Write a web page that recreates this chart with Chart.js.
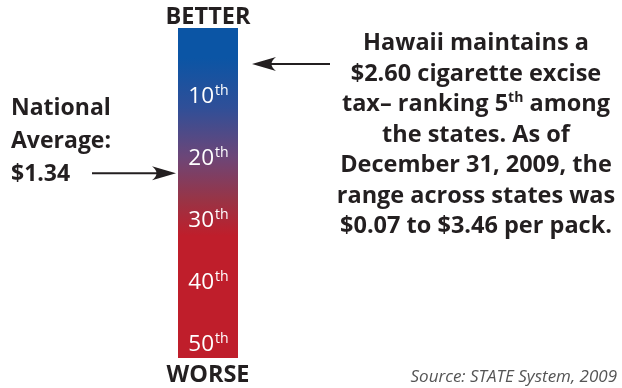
<!DOCTYPE html>
<html>
<head>
<meta charset="utf-8">
<script src="https://cdn.jsdelivr.net/npm/chart.js@4"></script>
<style>
    html, body { margin: 0; padding: 0; background: #fff; }
    canvas { display: block; }
</style>
</head>
<body>
<canvas id="rankChart" width="622" height="388"></canvas>
<script>
// state ranking scale (1st = highest tax), the bar covers the whole scale
const rankCategories = ['Cigarette excise tax rank'];
const scaleRange = [-0.8, 52.4];
const rankTicks = [10, 20, 30, 40, 50];
const tickSuffix = 'th';
const hawaiiRank = 5;
const nationalAverageRank = 22.6;
const endLabels = ['BETTER', 'WORSE'];
const averageLines = ['National', 'Average:', '$1.34'];
// each line is a list of [text, isSuperscript]
const noteLines = [
    [['Hawaii maintains a', false]],
    [['$2.60 cigarette excise', false]],
    [['tax\u2013 ranking 5', false], ['th', true], [' among', false]],
    [['the states. As of', false]],
    [['December 31, 2009, the', false]],
    [['range across states was', false]],
    [['$0.07 to $3.46 per pack.', false]]
];
const sourceText = 'Source: STATE System, 2009';

const BLUE = '#0b55a5';
const RED = '#bf1e2b';
const INK = '#231f20';
const FONT = '"Open Sans"';

function barGradient(context) {
    const { ctx, chartArea } = context.chart;
    if (!chartArea) return BLUE;
    const g = ctx.createLinearGradient(0, chartArea.top, 0, chartArea.bottom);
    g.addColorStop(0, BLUE);
    g.addColorStop(0.09, BLUE);
    g.addColorStop(0.24, '#2f4f98');
    g.addColorStop(0.39, '#6c4678');
    g.addColorStop(0.52, '#983446');
    g.addColorStop(0.63, RED);
    g.addColorStop(1, RED);
    return g;
}

function drawRich(ctx, parts, cx, baseline, size, supSize) {
    const font = s => `bold ${s}px ${FONT}`;
    let width = 0;
    parts.forEach(([text, sup]) => {
        ctx.font = font(sup ? supSize : size);
        width += ctx.measureText(text).width;
    });
    let x = cx - width / 2;
    ctx.textAlign = 'left';
    parts.forEach(([text, sup]) => {
        ctx.font = font(sup ? supSize : size);
        ctx.fillText(text, x, sup ? baseline - size * 0.4 : baseline);
        x += ctx.measureText(text).width;
    });
}

function drawArrow(ctx, x1, x2, y) {
    // line from x1 to arrow tip at x2
    const dir = x2 > x1 ? 1 : -1;
    ctx.strokeStyle = INK;
    ctx.fillStyle = INK;
    ctx.lineWidth = 2;
    ctx.beginPath();
    ctx.moveTo(x1, y);
    ctx.lineTo(x2 - dir * 10, y);
    ctx.stroke();
    ctx.beginPath();
    ctx.moveTo(x2, y);
    ctx.lineTo(x2 - dir * 24, y - 7);
    ctx.quadraticCurveTo(x2 - dir * 15, y, x2 - dir * 24, y + 7);
    ctx.closePath();
    ctx.fill();
}

const annotations = {
    id: 'annotations',
    afterDatasetsDraw(chart) {
        const { ctx, chartArea, scales: { y } } = chart;
        const cx = (chartArea.left + chartArea.right) / 2;
        ctx.save();
        ctx.textBaseline = 'alphabetic';

        // rank labels inside the bar
        ctx.fillStyle = '#fff';
        rankTicks.forEach(t => {
            const py = y.getPixelForValue(t) + 8;
            ctx.font = `22.5px ${FONT}`;
            const w1 = ctx.measureText(String(t)).width;
            ctx.font = `14px ${FONT}`;
            const w2 = ctx.measureText(tickSuffix).width;
            const x0 = cx - (w1 + w2) / 2;
            ctx.font = `22.5px ${FONT}`;
            ctx.textAlign = 'left';
            ctx.fillText(String(t), x0, py);
            ctx.font = `14px ${FONT}`;
            ctx.fillText(tickSuffix, x0 + w1 + 1, py - 8);
        });

        // BETTER / WORSE
        ctx.fillStyle = INK;
        ctx.font = `bold 23.5px ${FONT}`;
        ctx.textAlign = 'center';
        ctx.fillText(endLabels[0], cx, chartArea.top - 4);
        ctx.fillText(endLabels[1], cx, chartArea.bottom + 24);

        // national average
        ctx.textAlign = 'left';
        ctx.font = `bold 23px ${FONT}`;
        const avgY = y.getPixelForValue(nationalAverageRank);
        averageLines.forEach((line, i) => {
            ctx.fillText(line, 11, avgY + 8 - (averageLines.length - 1 - i) * 33);
        });
        drawArrow(ctx, 92, chartArea.left - 2, avgY);

        // Hawaii note
        const hiY = y.getPixelForValue(hawaiiRank);
        drawArrow(ctx, 330, chartArea.right + 14, hiY);
        noteLines.forEach((parts, i) => {
            drawRich(ctx, parts, 476, 50 + i * 30.5, 23.5, 14);
        });

        // source
        ctx.fillStyle = '#555';
        ctx.font = `italic 17px ${FONT}`;
        ctx.textAlign = 'right';
        ctx.fillText(sourceText, 617, 382);
        ctx.restore();
    }
};

new Chart(document.getElementById('rankChart'), {
    type: 'bar',
    data: {
        labels: rankCategories,
        datasets: [{
            data: [scaleRange],
            backgroundColor: barGradient,
            borderWidth: 0,
            borderSkipped: false,
            barPercentage: 1,
            categoryPercentage: 1
        }]
    },
    options: {
        responsive: false,
        animation: false,
        devicePixelRatio: 1,
        layout: { padding: { left: 178, right: 384, top: 28, bottom: 30 } },
        scales: {
            x: { display: false },
            y: { display: false, reverse: true, min: scaleRange[0], max: scaleRange[1] }
        },
        plugins: {
            legend: { display: false },
            tooltip: { enabled: false }
        }
    },
    plugins: [annotations]
});
</script>
</body>
</html>
